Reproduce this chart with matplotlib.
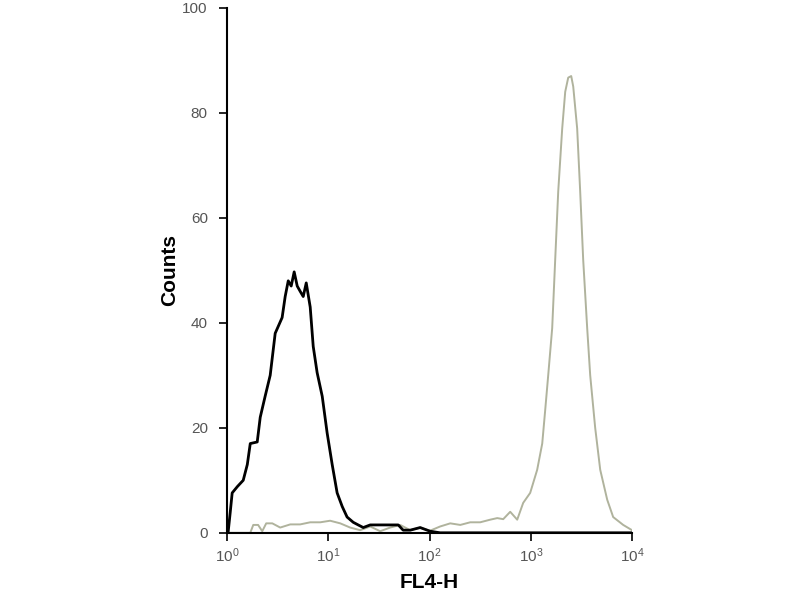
import matplotlib.pyplot as plt

plt.rcParams['font.family'] = ['Liberation Sans', 'DejaVu Sans']
plt.rcParams['mathtext.fontset'] = 'custom'
plt.rcParams['mathtext.rm'] = 'Liberation Sans'

# isotype control (black)
ctrl_fl4 = [1.02, 1.07, 1.12, 1.26, 1.44, 1.58, 1.69, 1.98, 2.12, 2.37, 2.66, 2.98,
            3.49, 3.74, 4.01, 4.29, 4.59, 4.92, 5.26, 5.64, 6.04, 6.61, 7.08, 7.74,
            8.69, 9.72, 10.9, 12.2, 13.7, 15.3, 17.6, 19.7, 22.1, 25.9, 32.5, 40.8,
            49.0, 54.8, 64.3, 80.7, 101, 127, 10000]
ctrl_counts = [0, 3.8, 7.6, 8.8, 10, 13, 17, 17.3, 22, 26, 30, 38,
               41, 45, 48, 47, 49.7, 47, 46, 45, 47.6, 43, 35.5, 30.5,
               26, 19, 13, 7.6, 5, 3, 2, 1.5, 1, 1.5, 1.5, 1.5,
               1.5, 0.5, 0.5, 1, 0.3, 0, 0]

# stained sample (grey)
stain_fl4 = [1.0, 1.69, 1.81, 2.02, 2.22, 2.43, 2.79, 3.34, 4.20, 5.26, 6.61, 8.30,
             10.4, 13.1, 16.4, 20.6, 25.9, 32.5, 40.8, 51.2, 64.3, 80.7, 101, 127,
             160, 201, 252, 316, 397, 466, 534, 626, 734, 841, 986, 1156,
             1297, 1388, 1486, 1627, 1742, 1866, 2043, 2188, 2343, 2508, 2626, 2872,
             3076, 3294, 3607, 3863, 4327, 4853, 5689, 6516, 8185, 10000]
stain_counts = [0, 0, 1.5, 1.5, 0.3, 1.8, 1.8, 1, 1.6, 1.6, 2, 2,
                2.3, 1.8, 1, 0.5, 1.2, 0.3, 1, 1.5, 0.5, 1, 0.4, 1.2,
                1.8, 1.5, 2, 2, 2.5, 2.8, 2.6, 4, 2.5, 5.7, 7.6, 12,
                17, 23.4, 30, 39, 52, 65, 77, 84, 86.7, 87, 85, 77,
                65, 52, 39, 30, 20, 12, 6.3, 3, 1.5, 0.5]

xticks = [1, 10, 100, 1000, 10000]
xtick_labels = [r'$\mathregular{10^0}$', r'$\mathregular{10^1}$', r'$\mathregular{10^2}$',
                r'$\mathregular{10^3}$', r'$\mathregular{10^4}$']
yticks = [0, 20, 40, 60, 80, 100]

fig = plt.figure(figsize=(8, 6), dpi=100)
ax = fig.add_axes([0.284, 0.112, 0.506, 0.875])

ax.plot(stain_fl4, stain_counts, color='#b0b39d', lw=1.4)
ax.plot(ctrl_fl4, ctrl_counts, color='black', lw=2)

ax.set_xscale('log')
ax.set_xlim(1, 10000)
ax.set_ylim(0, 100)
ax.set_xticks(xticks)
ax.set_xticklabels(xtick_labels)
ax.minorticks_off()
ax.set_yticks(yticks)

for s in ['top', 'right']:
    ax.spines[s].set_visible(False)
ax.spines['left'].set_linewidth(1.5)
ax.spines['bottom'].set_linewidth(1.5)
ax.tick_params(axis='both', colors='#555555', labelsize=11, length=6, width=1.2)
ax.tick_params(axis='both', which='both', color='black')
ax.tick_params(axis='y', pad=8)

ax.set_xlabel('FL4-H', fontsize=15, fontweight='bold', labelpad=6)
ax.set_ylabel('Counts', fontsize=15, fontweight='bold', labelpad=2)

fig.savefig('out.png', dpi=100)
